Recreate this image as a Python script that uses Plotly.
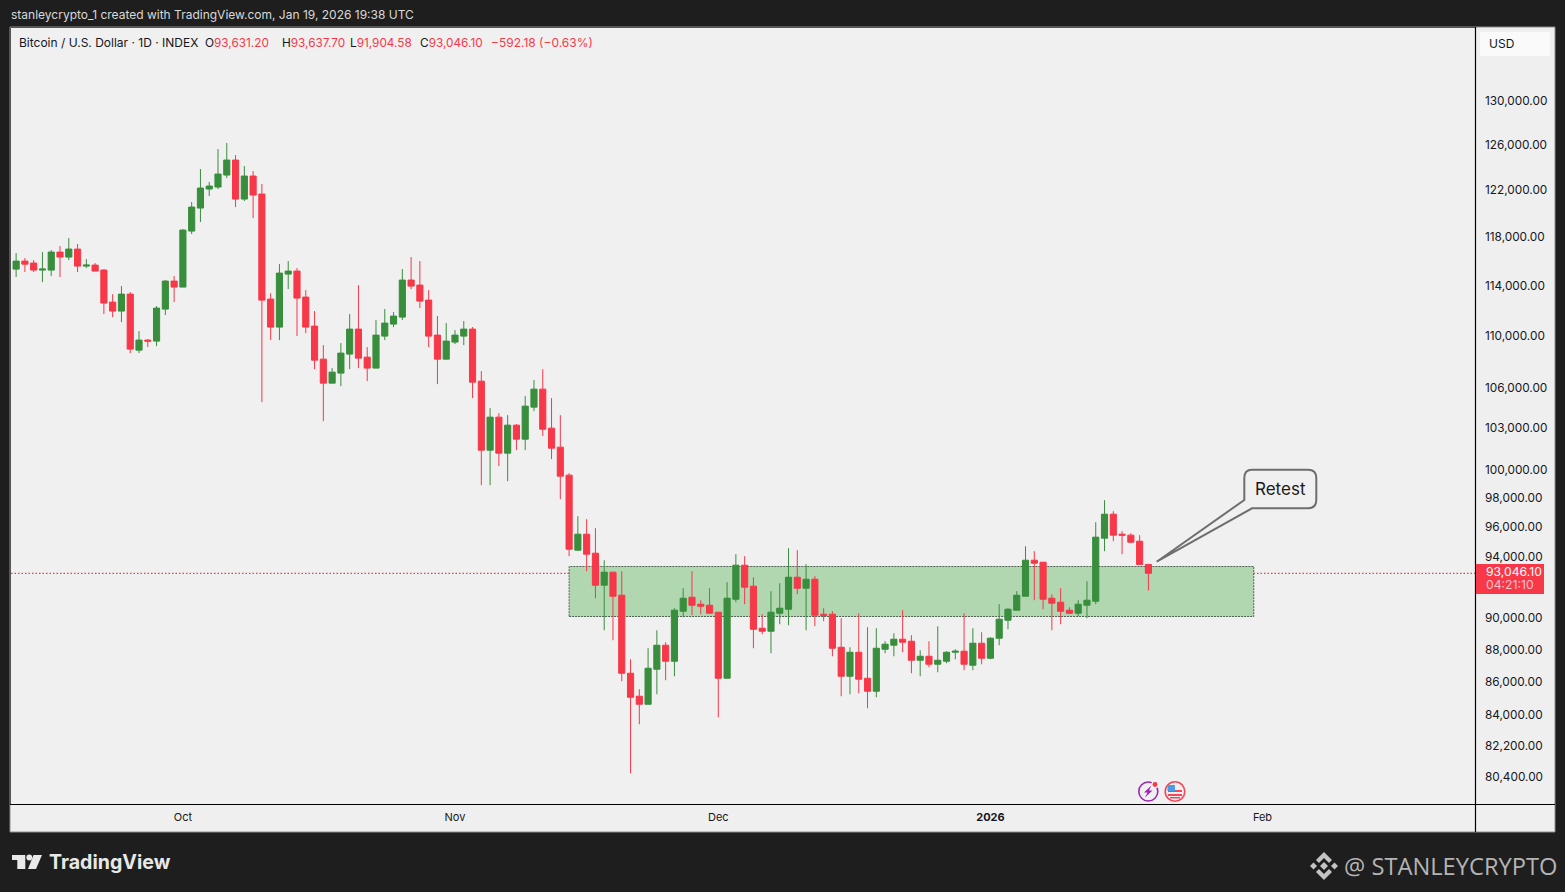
import pandas as pd
import plotly.graph_objects as go

W, H = 1565, 892
PLOT_L, PLOT_R, PLOT_T, PLOT_B = 11, 1475, 28, 804

dates = pd.date_range("2025-09-12", periods=130, freq="D")

opens = [
    115490, 116150, 115986, 115410, 115410, 116896, 116482, 117145, 115738, 115820,
    115410, 112815, 112096, 113457, 109031, 109809, 109731, 112255, 114512, 114025,
    118654, 120610, 122249, 122423, 123472, 124795, 121383, 123385, 121816, 113056,
    110829, 115082, 115328, 113217, 110907, 108336, 106504, 107264, 108722, 110671,
    108490, 107646, 110122, 111065, 111619, 114593, 114187, 112975, 110200, 108336,
    109653, 110122, 110671, 106655, 101551, 103961, 101335, 103372, 102348, 104703,
    106050, 103152, 101767, 99763, 94584, 95666, 94383, 92261, 93117, 91607,
    86667, 85263, 84779, 86914, 88409, 87409, 90572, 91477, 91023, 90959,
    90508, 86360, 91347, 93581, 92196, 89484, 89293, 90443, 90700, 92786,
    92064, 92655, 90379, 90379, 88283, 86483, 87970, 86360, 85566, 88158,
    88409, 88787, 88661, 87471, 87720, 87223, 87409, 87970, 88033, 87161,
    88535, 87596, 88850, 89994, 90636, 91542, 93914, 93781, 91412, 91152,
    90636, 90443, 90959, 91217, 95395, 97036, 95666, 95600, 95192, 93631.2,
]
highs = [
    116810, 116400, 116233, 116896, 117062, 117398, 118065, 117561, 116316, 115986,
    115492, 113457, 114106, 113620, 110514, 109887, 112495, 114593, 114921, 118822,
    121125, 124000, 122860, 125774, 126312, 125240, 124265, 123823, 122686, 113539,
    115902, 116151, 115574, 113781, 112096, 109420, 107646, 109575, 111857, 114187,
    109264, 111381, 112255, 112016, 115492, 116482, 116151, 113781, 111698, 111144,
    110592, 111302, 110829, 107416, 104628, 104257, 104109, 103445, 105525, 106731,
    107569, 105375, 104109, 99905, 96898, 96691, 96075, 93914, 93117, 93183,
    87533, 85687, 88220, 89356, 88598, 90765, 92064, 93183, 91282, 92064,
    90508, 92458, 94316, 94182, 92786, 90379, 91868, 92392, 94719, 94584,
    93648, 92852, 90765, 90572, 90122, 88283, 90443, 89547, 89484, 88661,
    89166, 90636, 89040, 88095, 88661, 89611, 88033, 88158, 90443, 89484,
    89230, 88913, 91023, 90765, 91868, 94852, 94517, 93781, 91672, 92064,
    90829, 91282, 92523, 96485, 98006, 97243, 95870, 95734, 95600, 93637.7,
]
lows = [
    114840, 115250, 115246, 114431, 114921, 114838, 116233, 115246, 115574, 115328,
    111857, 111619, 111223, 108799, 108799, 109264, 109342, 111778, 112815, 114025,
    118402, 119416, 121643, 122249, 123209, 120696, 121211, 119755, 105076, 109809,
    109809, 113862, 110124, 110357, 107569, 103666, 106504, 106277, 107569, 107646,
    106655, 107646, 109809, 110829, 111381, 113862, 112335, 109264, 106428, 108336,
    109497, 109420, 105375, 99057, 99057, 100404, 99338, 101551, 101551, 104405,
    102567, 100904, 98076, 94182, 94584, 93183, 91412, 89356, 88724, 86176,
    80722, 83582, 84779, 85384, 86237, 86483, 90186, 90315, 90379, 90443,
    83999, 86360, 91152, 91023, 88220, 89103, 87907, 89739, 89675, 91672,
    89356, 89611, 89930, 87720, 85263, 85384, 85444, 84538, 85202, 87907,
    87720, 87970, 86667, 86483, 87037, 86729, 87285, 87533, 86852, 86852,
    87223, 87533, 88409, 89420, 90636, 91542, 91282, 90700, 89356, 89739,
    90379, 90250, 90122, 91023, 94517, 95192, 94316, 95057, 93648, 91904.58,
]
closes = [
    116150, 115900, 115410, 115492, 116896, 116482, 117145, 115738, 115820, 115328,
    112735, 112096, 113457, 109109, 109809, 109731, 112335, 114512, 114025, 118738,
    120696, 122336, 122510, 123560, 124795, 121383, 123385, 121729, 112975, 110829,
    115164, 115328, 113136, 110829, 108259, 106504, 107340, 108799, 110671, 108413,
    107646, 110200, 111144, 111698, 114593, 114106, 112895, 110122, 108336, 109731,
    110200, 110671, 106580, 101551, 103961, 101335, 103372, 102348, 104777, 106050,
    103078, 101695, 99693, 94651, 95666, 94316, 92261, 93117, 91542, 86667,
    85202, 84779, 86976, 88409, 87409, 90636, 91412, 90959, 90894, 90443,
    86360, 91412, 93581, 92130, 89420, 89293, 90508, 90765, 92786, 92064,
    92655, 90315, 90315, 88220, 86483, 87970, 86299, 85566, 88220, 88472,
    88787, 88598, 87471, 87720, 87223, 87471, 87970, 88033, 87223, 88535,
    87596, 88850, 90058, 90700, 91607, 93914, 93714, 91347, 91088, 90572,
    90443, 91023, 91282, 95463, 97036, 95600, 95600, 95124, 93631.2, 93046.1,
]

price_ticks = [130000, 126000, 122000, 118000, 114000, 110000, 106000, 103000, 100000,
               98000, 96000, 94000, 90000, 88000, 86000, 84000, 82200, 80400]
price_labels = [f"{p:,.2f}" for p in price_ticks]
month_ticks = ["2025-10-01", "2025-11-01", "2025-12-01", "2026-01-01", "2026-02-01"]
month_labels = ["Oct", "Nov", "Dec", "<b>2026</b>", "Feb"]

last_price = 93046.10
zone_top, zone_bottom = 93495, 90232
zone_start, zone_end = "2025-11-14", "2026-01-31"

RED = "#F63849"
GREEN = "#388E3C"
BG = "#1E1E1E"
PANEL = "#F0F0F0"
UI_FONT = "Inter"


# page pixels -> paper coordinates of the plot area
def px(x):
    return (x - PLOT_L) / (PLOT_R - PLOT_L)


def py(y):
    return (PLOT_B - y) / (PLOT_B - PLOT_T)


def path(*cmds):
    out = []
    for c in cmds:
        if isinstance(c, str):
            out.append(c)
        else:
            out.append(f"{px(c[0]):.5f},{py(c[1]):.5f}")
    return " ".join(out)


def poly(*pts):
    return "M " + " L ".join(path(p) for p in pts) + " Z"


def rect(shapes, x0, y0, x1, y1, fill, line=None, width=0, layer="above"):
    shapes.append(dict(type="rect", xref="paper", yref="paper", x0=px(x0), x1=px(x1),
                       y0=py(y1), y1=py(y0), fillcolor=fill, layer=layer,
                       line=dict(color=line or fill, width=width)))


def circle(shapes, cx, cy, r, fill, line=None, width=0):
    shapes.append(dict(type="circle", xref="paper", yref="paper", x0=px(cx - r), x1=px(cx + r),
                       y0=py(cy + r), y1=py(cy - r), fillcolor=fill,
                       line=dict(color=line or fill, width=width)))


def fill_path(shapes, d, fill, line=None, width=0, layer="above"):
    shapes.append(dict(type="path", xref="paper", yref="paper", path=d, fillcolor=fill, layer=layer,
                       line=dict(color=line or fill, width=width)))


def label(annos, x, y, text, size=12, color="#131722", anchor="left", family=UI_FONT):
    annos.append(dict(xref="paper", yref="paper", x=px(x), y=py(y), text=text, showarrow=False,
                      xanchor=anchor, yanchor="middle", xshift=0, borderpad=0,
                      font=dict(family=family, size=size, color=color)))


shapes = []
annos = []

# price axis panel, time axis panel and frame
rect(shapes, 1475, 27, 1555, 832, "#EFEFEF", layer="below")
rect(shapes, 10, 804, 1475, 832, "#EFEFEF", layer="below")
rect(shapes, 10, 27, 1555, 832, "rgba(0,0,0,0)", line="#8C8C8C", width=1, layer="above")
fill_path(shapes, path("M", (1475.5, 27), "L", (1475.5, 832)), "rgba(0,0,0,0)", line="#000000", width=1.2)
fill_path(shapes, path("M", (10, 804.5), "L", (1555, 804.5)), "rgba(0,0,0,0)", line="#000000", width=1.2)

# zone and last price line sit under the candles
shapes.append(dict(type="rect", xref="x", yref="y", x0=zone_start, x1=zone_end, y0=zone_bottom, y1=zone_top,
                   fillcolor="#B1D7B1", layer="below", line=dict(color="#4F5F52", width=1, dash="2px,1px")))
shapes.append(dict(type="line", xref="paper", yref="y", x0=0, x1=1, y0=last_price, y1=last_price,
                   layer="below", line=dict(color=RED, width=1.2, dash="1.5px,2px")))

# USD button and last price tag
rect(shapes, 1480, 32, 1550, 56, "#FAFAFA")
label(annos, 1488, 43, "USD", size=12)
rect(shapes, 1476, 564, 1544, 594, RED)
label(annos, 1485, 571, "93,046.10", size=12.2, color="#FFFFFF")
label(annos, 1485, 584, "04:21:10", size=12.2, color="#FBC4CA")

# Retest callout
callout = path("M", (1252, 469.7), "L", (1308, 469.7), "Q", (1316.3, 469.7), (1316.3, 478),
               "L", (1316.3, 500), "Q", (1316.3, 508.3), (1308, 508.3), "L", (1252, 508.3),
               "L", (1156.7, 561.7), "L", (1244.3, 500), "L", (1244.3, 478),
               "Q", (1244.3, 469.7), (1252, 469.7), "Z")
fill_path(shapes, callout, PANEL, line="#6E6E6E", width=2)
label(annos, 1280.5, 488.5, "Retest", size=17, color="#1A1A1A", anchor="center")

# header and legend texts
label(annos, 10, 14.5, "stanleycrypto_1 created with TradingView.com, Jan 19, 2026 19:38 UTC", size=12, color="#D9D9D9")
label(annos, 18, 42.5, "Bitcoin / U.S. Dollar · 1D · INDEX", size=12)
for x, head, val in [(204, "O", "93,631.20"), (281, "H", "93,637.70"), (349, "L", "91,904.58"), (419, "C", "93,046.10")]:
    label(annos, x, 42.5, f'{head}<span style="color:{RED}">{val}</span>', size=11.8)
label(annos, 490, 42.5, "−592.18 (−0.63%)", size=12, color=RED)

# event icons
circle(shapes, 1148.3, 791.5, 9.5, "#F0F0F0", line="#9C27B0", width=1.6)
fill_path(shapes, poly((1151.5, 785.5), (1144, 792.5), (1147.5, 792.5), (1145, 797.5), (1152.5, 790.5), (1149, 790.5)), "#9C27B0")
circle(shapes, 1155, 784.5, 3.8, "#F0F0F0")
circle(shapes, 1155, 784.5, 2.4, RED)
circle(shapes, 1175, 791.5, 9.8, "#F0F0F0", line="#F2495A", width=1.6)
for sy in (790, 794):
    rect(shapes, 1168, sy, 1182, sy + 2, "#F2495A")
rect(shapes, 1170, 797, 1180, 798.5, "#F2495A")
rect(shapes, 1167.5, 785, 1175, 791, "#4A9BE8")

# TradingView logo
logo = "#E8E8E8"
fill_path(shapes, poly((12, 855), (25.3, 855), (25.3, 869), (17.3, 869), (17.3, 860), (12, 860)), logo)
circle(shapes, 29.3, 857.5, 2.9, logo)
fill_path(shapes, poly((33.5, 855), (42, 855), (36, 869), (28, 869)), logo)
label(annos, 48, 862, "<b>TradingView</b>", size=19.6, color=logo, family="Inter")

# Binance style watermark
mark = "#C4C4C4"
fill_path(shapes, poly((1324, 862), (1328, 866), (1324, 870), (1320, 866)), mark)
fill_path(shapes, poly((1313.5, 862.5), (1317, 866), (1313.5, 869.5), (1310, 866)), mark)
fill_path(shapes, poly((1334.5, 862.5), (1338, 866), (1334.5, 869.5), (1331, 866)), mark)
fill_path(shapes, poly((1324, 852), (1332, 860), (1329, 863), (1324, 858), (1319, 863), (1316, 860)), mark)
fill_path(shapes, poly((1324, 880), (1332, 872), (1329, 869), (1324, 874), (1319, 869), (1316, 872)), mark)
label(annos, 1343, 865.5, "@ STANLEYCRYPTO", size=23.7, color="#B4B4B4", family="Open Sans")

fig = go.Figure(go.Candlestick(
    x=dates, open=opens, high=highs, low=lows, close=closes,
    whiskerwidth=0,
    increasing=dict(line=dict(color=GREEN, width=1), fillcolor=GREEN),
    decreasing=dict(line=dict(color=RED, width=1), fillcolor=RED),
    showlegend=False, hoverinfo="skip",
))

fig.update_layout(
    width=W, height=H, autosize=False,
    margin=dict(l=PLOT_L, r=W - PLOT_R, t=PLOT_T, b=H - PLOT_B, pad=0),
    paper_bgcolor=BG, plot_bgcolor=PANEL,
    font=dict(family=UI_FONT, color="#131722"),
    boxgap=0.3, boxgroupgap=0,
    shapes=shapes, annotations=annos, showlegend=False,
)
fig.update_xaxes(
    type="date", range=["2025-09-11 10:00", "2026-02-25 05:00"],
    rangeslider_visible=False, showgrid=False, zeroline=False, showline=False,
    tickmode="array", tickvals=month_ticks, ticktext=month_labels,
    ticks="", tickfont=dict(size=11, color="#131722"), ticklabelstandoff=5,
)
fig.update_yaxes(
    type="log", side="right", range=[4.89751, 5.13694],
    showgrid=False, zeroline=False, showline=False,
    tickmode="array", tickvals=price_ticks, ticktext=price_labels,
    ticks="", tickfont=dict(size=11.8, color="#131722"), ticklabelstandoff=9, ticklabelshift=-2,
)

fig.write_html("out.html", config=dict(displayModeBar=False),
               post_script="document.body.style.margin='0';document.body.style.overflow='hidden';")
